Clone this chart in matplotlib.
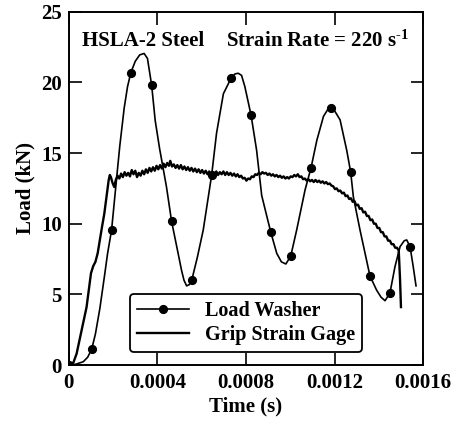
import matplotlib
matplotlib.use("Agg")
import matplotlib.pyplot as plt
import numpy as np

# load washer trace (time in microseconds, load in kN)
washer_time_us = [
    0, 30, 65, 85, 103, 120, 140, 160, 175, 193, 210, 230, 250, 265, 280,
    300, 320, 340, 355, 374, 390, 410, 425, 441, 464, 487, 509, 520, 532,
    545, 555, 580, 607, 645, 667, 698, 732, 750, 765, 780, 795, 823, 848,
    871, 893, 912, 939, 960, 980, 1002, 1029, 1067, 1094, 1120, 1150, 1170,
    1183, 1200, 1225, 1255, 1273, 1285, 1315, 1360, 1390, 1410, 1428, 1450,
    1473, 1496, 1515, 1526, 1541, 1555, 1568,
]
washer_load = [
    0.0, 0.05, 0.23, 0.55, 1.11, 2.2, 4.0, 6.2, 7.9, 9.56, 12.3, 15.5, 18.2,
    19.7, 20.7, 21.5, 21.95, 22.05, 21.7, 19.8, 17.3, 15.3, 14.0, 12.6, 10.17,
    8.4, 6.7, 6.0, 5.6, 5.7, 6.0, 7.6, 9.56, 13.45, 16.4, 19.2, 20.28, 20.6,
    20.65, 20.5, 19.7, 17.68, 15.2, 12.0, 10.6, 9.4, 7.9, 7.3, 7.15, 7.7,
    9.56, 12.4, 13.97, 15.9, 17.6, 18.1, 18.17, 18.0, 17.35, 15.2, 13.64,
    11.9, 9.56, 6.3, 5.3, 4.8, 4.55, 5.08, 6.96, 8.38, 8.8, 8.85, 8.38, 7.0,
    5.6,
]
washer_marker_us = [0, 103, 193, 280, 374, 464, 555, 645, 732, 823, 912,
                    1002, 1094, 1183, 1273, 1360, 1450, 1541]

# grip strain gage trace
gage_time_us = [
    0, 20, 35, 50, 65, 80, 90, 100, 110, 120, 130, 140, 150, 160, 170, 180,
    185, 190, 197, 205, 212, 220, 228, 236, 244, 252, 260, 268, 276, 284,
    292, 300, 308, 316, 324, 332, 340, 348, 356, 364, 372, 380, 388, 396,
    404, 412, 420, 428, 436, 444, 452, 458, 466, 474, 482, 490, 498, 506,
    514, 522, 530, 538, 546, 554, 562, 570, 578, 586, 594, 602, 610, 618,
    626, 634, 642, 650, 658, 666, 674, 682, 690, 698, 706, 714, 722, 730,
    738, 746, 754, 762, 770, 778, 786, 794, 802, 810, 818, 826, 834, 842,
    850, 858, 866, 874, 882, 890, 898, 906, 914, 922, 930, 938, 946, 954,
    962, 970, 978, 986, 994, 1002, 1010, 1018, 1026, 1034, 1042, 1050, 1058,
    1066, 1074, 1082, 1090, 1098, 1106, 1114, 1122, 1130, 1138, 1146, 1154,
    1162, 1170, 1178, 1186, 1194, 1202, 1210, 1218, 1226, 1234, 1242, 1250,
    1258, 1266, 1274, 1282, 1290, 1298, 1306, 1314, 1322, 1330, 1338, 1346,
    1354, 1362, 1370, 1378, 1386, 1394, 1402, 1410, 1418, 1426, 1434, 1442,
    1450, 1458, 1466, 1474, 1482, 1490, 1496, 1500,
]
gage_load = [
    0.0, 0.15, 0.8, 1.9, 3.0, 4.1, 5.3, 6.5, 7.0, 7.3, 7.9, 8.85, 9.8, 10.7,
    11.9, 13.1, 13.45, 13.3, 12.9, 12.6, 13.1, 13.4, 13.2, 13.55, 13.3, 13.65,
    13.4, 13.6, 13.35, 13.8, 13.5, 13.75, 13.3, 13.6, 13.4, 13.75, 13.5,
    13.85, 13.6, 13.95, 13.7, 14.0, 13.75, 14.1, 13.85, 14.15, 13.9, 14.25,
    14.0, 14.3, 14.1, 14.45, 14.05, 14.2, 13.95, 14.15, 13.9, 14.15, 13.85,
    14.05, 13.8, 14.0, 13.75, 13.95, 13.7, 13.9, 13.65, 13.85, 13.6, 13.8,
    13.55, 13.75, 13.5, 13.7, 13.45, 13.65, 13.5, 13.7, 13.45, 13.65, 13.5,
    13.7, 13.45, 13.65, 13.45, 13.6, 13.4, 13.55, 13.35, 13.5, 13.3, 13.4,
    13.2, 13.25, 13.05, 13.2, 13.15, 13.35, 13.3, 13.5, 13.45, 13.6, 13.5,
    13.65, 13.55, 13.6, 13.45, 13.55, 13.4, 13.5, 13.35, 13.45, 13.3, 13.4,
    13.25, 13.35, 13.2, 13.3, 13.2, 13.35, 13.3, 13.45, 13.35, 13.5, 13.3,
    13.35, 13.15, 13.2, 13.05, 13.15, 13.0, 13.1, 12.95, 13.1, 12.95, 13.05,
    12.9, 13.0, 12.85, 12.95, 12.8, 12.85, 12.7, 12.65, 12.45, 12.5, 12.3,
    12.35, 12.15, 12.2, 11.95, 12.0, 11.75, 11.8, 11.55, 11.6, 11.3, 11.35,
    11.05, 11.1, 10.8, 10.85, 10.55, 10.55, 10.25, 10.3, 10.0, 10.0, 9.7,
    9.7, 9.4, 9.4, 9.1, 9.1, 8.8, 8.8, 8.55, 8.55, 8.3, 8.3, 8.1, 6.0, 4.1,
]

x_ticks = [0, 0.0004, 0.0008, 0.0012, 0.0016]
x_tick_labels = ["0", "0.0004", "0.0008", "0.0012", "0.0016"]
y_ticks = [0, 5, 10, 15, 20, 25]

plt.rcParams["font.family"] = "Liberation Serif"
plt.rcParams["font.weight"] = "bold"
plt.rcParams["mathtext.fontset"] = "custom"
plt.rcParams["mathtext.rm"] = "Liberation Serif:bold"
plt.rcParams["mathtext.default"] = "rm"

washer_t = np.array(washer_time_us) / 1e6
gage_t = np.array(gage_time_us) / 1e6
marks = [washer_time_us.index(m) for m in washer_marker_us]

fig, ax = plt.subplots(figsize=(4.53, 4.21), dpi=100)
fig.subplots_adjust(left=0.152, right=0.934, bottom=0.133, top=0.972)

ax.plot(washer_t, washer_load, color="black", lw=1.2, marker="o",
        markersize=5.6, markevery=marks, label="Load Washer")
ax.plot(gage_t, gage_load, color="black", lw=1.7, label="Grip Strain Gage")

ax.set_xlim(0, 0.0016)
ax.set_ylim(0, 25)
ax.set_xticks(x_ticks)
ax.set_xticklabels(x_tick_labels)
ax.set_yticks(y_ticks)
ax.tick_params(direction="in", length=9, width=1.2, labelsize=15,
               top=True, right=True)
ax.tick_params(axis="x", pad=6)
ax.tick_params(axis="y", pad=5)
for s in ax.spines.values():
    s.set_linewidth(1.4)

ax.set_xlabel("Time (s)", fontsize=15, fontweight="bold", labelpad=2)
ax.set_ylabel("Load (kN)", fontsize=15, fontweight="bold", labelpad=4)

ax.text(0.036, 0.918, "HSLA-2 Steel", transform=ax.transAxes,
        fontsize=15, fontweight="bold", va="center", ha="left")
ax.text(0.445, 0.918, r"Strain Rate = 220 s$^{\text{-1}}$",
        transform=ax.transAxes, fontsize=15, fontweight="bold",
        va="center", ha="left")

leg = ax.legend(loc="center", bbox_to_anchor=(0.5, 0.118), fontsize=14.5,
                frameon=True, fancybox=True, handlelength=2.6,
                borderpad=0.35, labelspacing=0.2, handletextpad=0.8,
                borderaxespad=0.2)
leg.get_frame().set_edgecolor("black")
leg.get_frame().set_linewidth(1.3)
leg.get_frame().set_alpha(1)

fig.savefig("out.png", dpi=100)
